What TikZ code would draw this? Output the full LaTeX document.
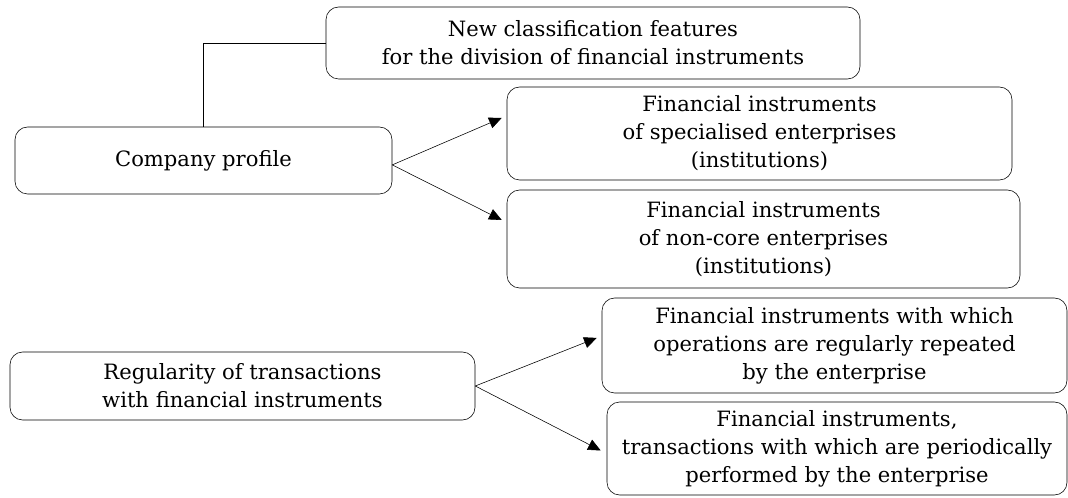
\documentclass[tikz,border=0pt]{standalone}
\usepackage{fontspec}
\setmainfont{DejaVu Serif}
\usepackage{tikz}
\usetikzlibrary{shapes.geometric, arrows.meta}
\tikzstyle{feature} = [font=\fontsize{15}{19.9}\selectfont, rectangle, rounded corners=9pt, align=center, draw=black, thin, inner sep=0pt]
\tikzstyle{arrow} = [thin,-{Triangle[length=9pt,width=8pt]}]
\tikzstyle{link} = [thin]

\begin{document}
\begin{tikzpicture}
  \useasboundingbox (0,0) rectangle (26.7,-12.45);
  \node (profile) [feature, minimum width=9.425cm, minimum height=1.675cm] at (5.0875,-4.0125) {Company profile};
  \node (features) [feature, right of=profile, xshift=8.7375cm, yshift=2.9375cm, minimum width=13.35cm, minimum height=1.8cm]{New classification features\\
    for the division of financial instruments};
  \node (special) [feature, right of=profile, xshift=12.9cm, yshift=0.675cm, minimum width=12.625cm, minimum height=2.325cm]{Financial instruments\\
    of specialised enterprises\\
    (institutions)};
  \node (noncore) [feature, below of=special, xshift=0.1cm, yshift=-1.6375cm, minimum width=12.825cm, minimum height=2.45cm]{Financial instruments\\
    of non-core enterprises\\
    (institutions)};
  \node (regularity) [feature, below of=profile, xshift=0.975cm, yshift=-4.6375cm, minimum width=11.625cm, minimum height=1.7cm]{Regularity of transactions\\
    with financial instruments};
  \node (repeated) [feature, right of=regularity, xshift=13.8cm, yshift=1.0125cm, minimum width=11.625cm, minimum height=2.375cm]{Financial instruments with which\\
    operations are regularly repeated\\
    by the enterprise};
  \node (periodic) [feature, below of=repeated, xshift=0.0625cm, yshift=-1.575cm, minimum width=11.5cm, minimum height=2.325cm]{Financial instruments,\\
    transactions with which are periodically\\
    performed by the enterprise};
  \coordinate (out1) at ([yshift=-0.11cm]profile.east);
  \coordinate (tip1) at ([shift={(-0.125,0.39)}]special.west);
  \coordinate (tip2) at ([shift={(-0.125,0.475)}]noncore.west);
  \coordinate (tip3) at ([shift={(-0.125,0.19)}]repeated.west);
  \coordinate (tip4) at ([shift={(-0.15,-0.05)}]periodic.west);
  \draw[link](features.west) -| (profile.north);
  \draw[arrow](out1) -- (tip1);
  \draw[arrow](out1) -- (tip2);
  \draw[arrow](regularity.east) -- (tip3);
  \draw[arrow](regularity.east) -- (tip4);
\end{tikzpicture}
\end{document}
